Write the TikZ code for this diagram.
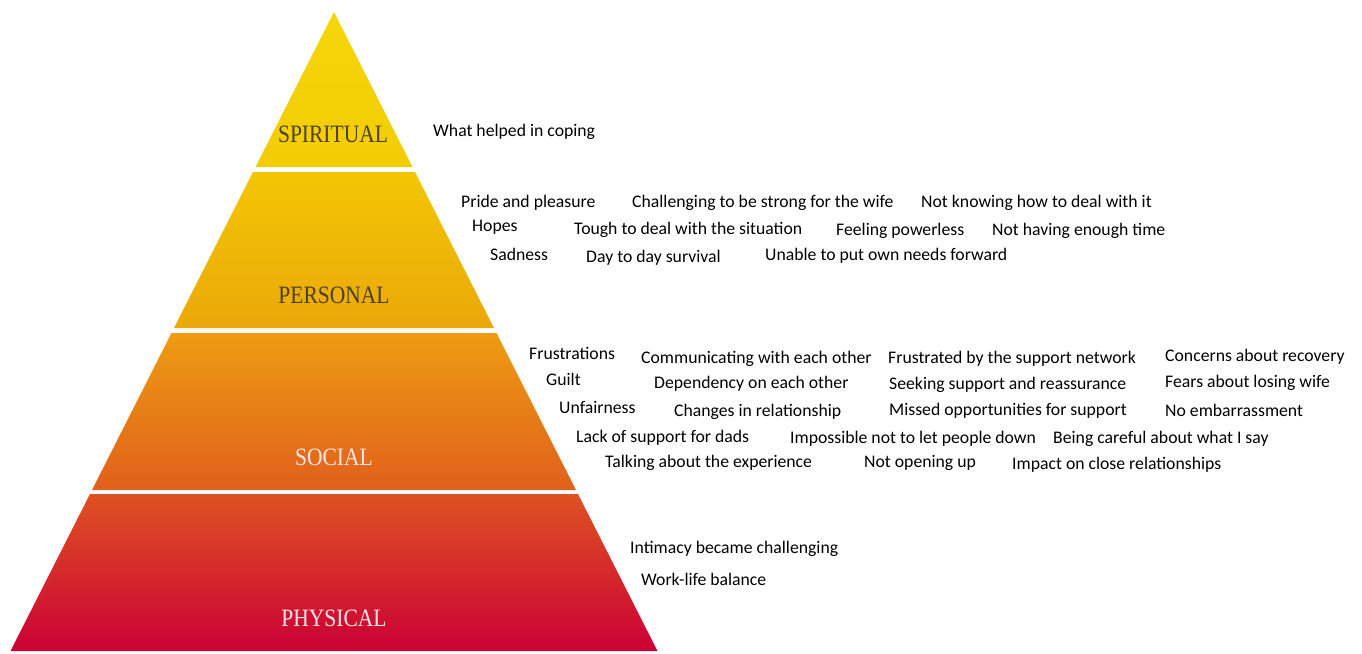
\documentclass[tikz,border=0pt]{standalone}
\usepackage{fontspec}
\setmainfont{Liberation Serif}
\newfontfamily\notefont{Carlito}
\begin{document}
\begin{tikzpicture}[x=1pt,y=-1pt,
  layerlabel/.style={font=\fontsize{25}{25}\selectfont, xscale=0.86, inner sep=0pt},
  lightlabel/.style={layerlabel, text=white!90!red},
  note/.style={font=\notefont\fontsize{17.7}{17.7}\selectfont, anchor=west, inner sep=0pt, text=black, yshift=-1.5pt}]
\useasboundingbox (0,0) rectangle (1362,653);
\definecolor{spA}{HTML}{F6D60A}\definecolor{spB}{HTML}{F2CC04}
\definecolor{peA}{HTML}{F3C603}\definecolor{peB}{HTML}{EAA80A}
\definecolor{soA}{HTML}{EE9C12}\definecolor{soB}{HTML}{E0601C}
\definecolor{phA}{HTML}{DE5222}\definecolor{phB}{HTML}{CB0035}
\definecolor{lbldark}{HTML}{4E4020}
% pyramid layers
\shade[top color=spA, bottom color=spB] (334,12) -- (412.5,167) -- (255.5,167) -- cycle;
\shade[top color=peA, bottom color=peB] (253,172) -- (415,172) -- (494,328) -- (174,328) -- cycle;
\shade[top color=soA, bottom color=soB] (171.5,333) -- (496.5,333) -- (576,490) -- (92,490) -- cycle;
\shade[top color=phA, bottom color=phB] (90,494) -- (578,494) -- (657.5,651) -- (10.5,651) -- cycle;
% layer names
\node[layerlabel, text=lbldark] (spiritual) at (333,134) {SPIRITUAL};
\node[layerlabel, text=lbldark] (personal) at (334,295) {PERSONAL};
\node[lightlabel] (social) at (334,457) {SOCIAL};
\node[lightlabel] (physical) at (334,618) {PHYSICAL};
% spiritual
\node[note] (s1) at (433,130) {What helped in coping};
% personal
\node[note] (p1) at (461,201) {Pride and pleasure};
\node[note] (p2) at (632,201) {Challenging to be strong for the wife};
\node[note] (p3) at (921,201) {Not knowing how to deal with it};
\node[note] (p4) at (472,226) {Hopes};
\node[note] (p5) at (574,228) {Tough to deal with the situation};
\node[note] (p6) at (836,229) {Feeling powerless};
\node[note] (p7) at (992,229) {Not having enough time};
\node[note] (p8) at (490,253) {Sadness};
\node[note] (p9) at (586,256) {Day to day survival};
\node[note] (p10) at (765,254) {Unable to put own needs forward};
% social
\node[note] (c1) at (529,352) {Frustrations};
\node[note] (c2) at (641,357) {Communicating with each other};
\node[note] (c3) at (888,357) {Frustrated by the support network};
\node[note] (c4) at (1165,355) {Concerns about recovery};
\node[note] (c5) at (546,378) {Guilt};
\node[note] (c6) at (654,382) {Dependency on each other};
\node[note] (c7) at (889,383) {Seeking support and reassurance};
\node[note] (c8) at (1165,381) {Fears about losing wife};
\node[note] (c9) at (559,406) {Unfairness};
\node[note] (c10) at (674,410) {Changes in relationship};
\node[note] (c11) at (889,409) {Missed opportunities for support};
\node[note] (c12) at (1165,409) {No embarrassment};
\node[note] (c13) at (576,436) {Lack of support for dads};
\node[note] (c14) at (790,437) {Impossible not to let people down};
\node[note] (c15) at (1053,437) {Being careful about what I say};
\node[note] (c16) at (605,461) {Talking about the experience};
\node[note] (c17) at (864,461) {Not opening up};
\node[note] (c18) at (1012,463) {Impact on close relationships};
% physical
\node[note] (h1) at (630,547) {Intimacy became challenging};
\node[note] (h2) at (641,578) {Work-life balance};
\end{tikzpicture}
\end{document}
